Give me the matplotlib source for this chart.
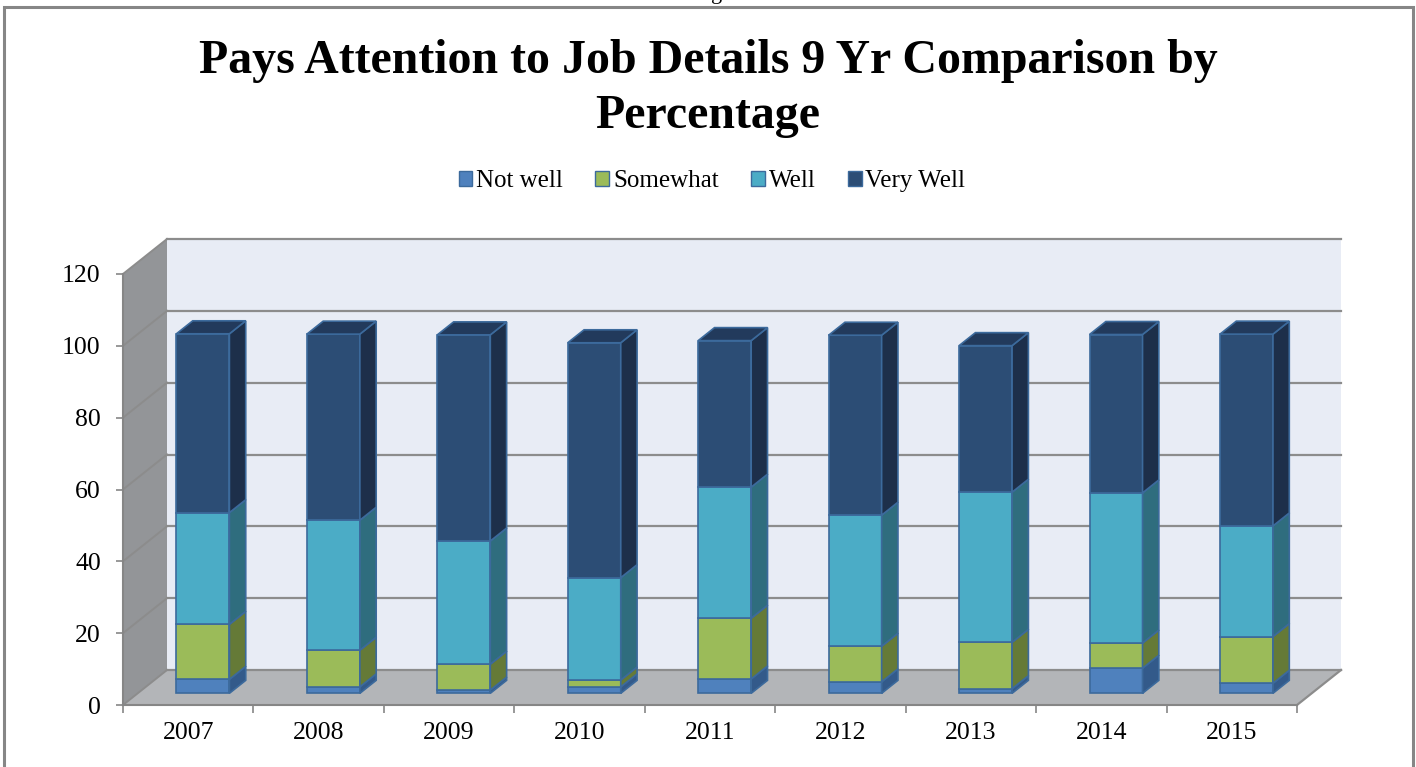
import matplotlib
matplotlib.use("Agg")
import matplotlib.pyplot as plt
from matplotlib.patches import Polygon, Rectangle, Patch
import numpy as np

plt.rcParams['font.family'] = ['Liberation Serif', 'DejaVu Serif']

# Survey results (percent of respondents)
years = ['2007', '2008', '2009', '2010', '2011', '2012', '2013', '2014', '2015']
not_well = [3.9, 1.8, 0.9, 1.8, 4.0, 3.2, 1.3, 7.0, 2.8]
somewhat = [15.3, 10.2, 7.2, 1.9, 16.9, 9.9, 12.9, 7.0, 13.0]
well = [31.1, 36.2, 34.3, 28.5, 36.5, 36.5, 41.8, 41.8, 30.8]
very_well = [49.8, 51.8, 57.4, 65.4, 40.8, 50.1, 40.8, 44.1, 53.4]

series_names = ['Not well', 'Somewhat', 'Well', 'Very Well']
series_values = [not_well, somewhat, well, very_well]
front_colors = ['#4F81BD', '#9BBB59', '#4BACC6', '#2C4D75']
side_colors = ['#335A8A', '#657A37', '#2F6D7E', '#1D2F4A']
top_color = '#223A5C'
edge_color = '#3C6A9C'

y_ticks = [0, 20, 40, 60, 80, 100, 120]

W, H = 1416, 767
fig = plt.figure(figsize=(W / 100, H / 100), dpi=100)

# axes = front plane of the 3-D box
ax_l, ax_r, ax_b, ax_t = 123, 1297, 705, 274
ax = fig.add_axes([ax_l / W, (H - ax_b) / H, (ax_r - ax_l) / W, (ax_b - ax_t) / H])
n = len(years)
ax.set_xlim(-0.5, n - 0.5)
ax.set_ylim(0, 120)
ax.patch.set_alpha(0)

# oblique depth vector (category units, value units)
px_per_cat = (ax_r - ax_l) / n
px_per_val = (ax_b - ax_t) / 120
DX, DY = 44 / px_per_cat, 35 / px_per_val

x0, x1 = -0.5, n - 0.5
wall_kw = dict(closed=True, clip_on=False, linewidth=0)
# back wall, side wall, floor
ax.add_patch(Polygon([(x0 + DX, DY), (x1 + DX, DY), (x1 + DX, 120 + DY), (x0 + DX, 120 + DY)],
                     facecolor='#E8ECF5', zorder=0, **wall_kw))
ax.add_patch(Polygon([(x0, 0), (x0 + DX, DY), (x0 + DX, 120 + DY), (x0, 120)],
                     facecolor='#939598', zorder=0, **wall_kw))
ax.add_patch(Polygon([(x0, 0), (x1, 0), (x1 + DX, DY), (x0 + DX, DY)],
                     facecolor='#B3B5B8', zorder=0, **wall_kw))

grid_c = '#8C8C8C'
for v in y_ticks:
    ax.plot([x0 + DX, x1 + DX], [v + DY, v + DY], color=grid_c, lw=1.6, clip_on=False, zorder=1)
    ax.plot([x0, x0 + DX], [v, v + DY], color=grid_c, lw=1.4, clip_on=False, zorder=1)
ax.plot([x1, x1 + DX], [0, DY], color=grid_c, lw=1.6, clip_on=False, zorder=1)

# bars: front face at depth t0, back face at depth t1
t0, t1 = 0.334, 0.705
bar_w = 53 / px_per_cat
shift_x, shift_y = t0 * DX, t0 * DY
dd_x, dd_y = (t1 - t0) * DX, (t1 - t0) * DY
xs = np.arange(n)

bottoms = np.zeros(n)
for k, vals in enumerate(series_values):
    vals = np.array(vals)
    ax.bar(xs + shift_x, vals, bottom=bottoms + shift_y, width=bar_w,
           color=front_colors[k], edgecolor=edge_color, linewidth=1.2,
           clip_on=False, zorder=3)
    for i in range(n):
        xr = xs[i] + shift_x + bar_w / 2
        yb = bottoms[i] + shift_y
        yt = yb + vals[i]
        ax.add_patch(Polygon([(xr, yb), (xr + dd_x, yb + dd_y), (xr + dd_x, yt + dd_y), (xr, yt)],
                             closed=True, facecolor=side_colors[k], edgecolor=edge_color,
                             linewidth=1.2, clip_on=False, zorder=3))
        if k == len(series_values) - 1:
            xl = xr - bar_w
            ax.add_patch(Polygon([(xl, yt), (xr, yt), (xr + dd_x, yt + dd_y), (xl + dd_x, yt + dd_y)],
                                 closed=True, facecolor=top_color, edgecolor=edge_color,
                                 linewidth=1.2, clip_on=False, zorder=3))
    bottoms = bottoms + vals

# axes styling
for s in ['top', 'right']:
    ax.spines[s].set_visible(False)
for s in ['left', 'bottom']:
    ax.spines[s].set_color('#868686')
    ax.spines[s].set_linewidth(1.5)
    ax.spines[s].set_zorder(2)

ax.set_yticks(y_ticks)
ax.set_yticklabels([str(v) for v in y_ticks])
ax.tick_params(axis='y', direction='out', length=5, width=1.2, color='#868686',
               pad=11, labelsize=18.5)
ax.set_xticks(np.arange(n + 1) - 0.5)
ax.set_xticklabels([])
ax.tick_params(axis='x', which='major', direction='out', length=6, width=1.2, color='#868686')
ax.set_xticks(xs, minor=True)
ax.set_xticklabels(years, minor=True)
ax.tick_params(axis='x', which='minor', length=0, pad=12, labelsize=18.5)

# title
title_kw = dict(ha='center', va='baseline', fontsize=34.5, fontweight='bold')
fig.text(0.5, 1 - 73 / H, 'Pays Attention to Job Details 9 Yr Comparison by', **title_kw)
fig.text(0.5, 1 - 128 / H, 'Percentage', **title_kw)

# legend
handles = [Patch(facecolor=c, edgecolor=edge_color, linewidth=1.0) for c in front_colors]
fig.legend(handles, series_names, loc='center', bbox_to_anchor=(712 / W, 1 - 181 / H),
           ncol=4, frameon=False, fontsize=18, handlelength=0.55, handleheight=0.55,
           handletextpad=0.15, columnspacing=1.3)

# frame around the chart area
fig.patches.append(Rectangle((4 / W, -0.05), (1413 - 4) / W, (H + 38 - 7) / H,
                             transform=fig.transFigure, fill=False, edgecolor='#868686',
                             linewidth=2.2))
fig.text(717 / W, 1 + 0.5 / H, 'g', ha='center', va='baseline', fontsize=16)

fig.savefig('out.png', dpi=100)
